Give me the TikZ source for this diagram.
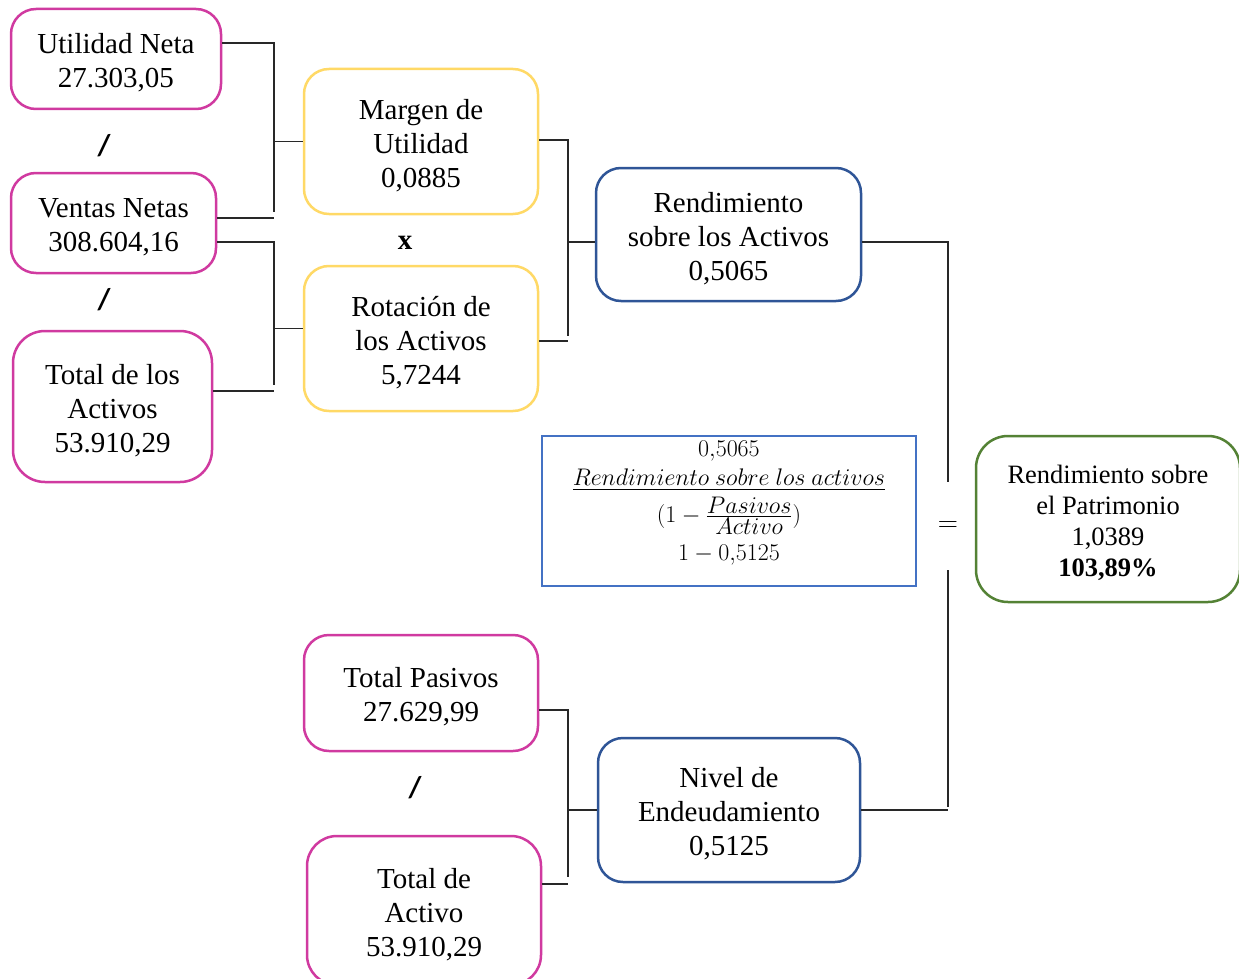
\RequirePackage{fix-cm}
\documentclass[tikz,border=0pt]{standalone}
\usepackage{amsmath}
\usepackage[no-math]{fontspec}
\setmainfont{Liberation Serif}
\newfontfamily\slashfont{Carlito}
\newcommand{\toppad}{\rule{0pt}{28pt}}
\definecolor{cmag}{RGB}{208,58,160}
\definecolor{cyel}{RGB}{255,217,102}
\definecolor{cdblue}{RGB}{47,85,151}
\definecolor{cblue}{RGB}{68,114,196}
\definecolor{cgreen}{RGB}{84,130,53}
\definecolor{cline}{RGB}{40,40,40}
\tikzset{
  box/.style={draw, line width=2.5pt, rounded corners=25pt, inner sep=0pt,
    align=center, font=\fontsize{29}{34}\selectfont},
  magbox/.style={box, draw=cmag},
  yelbox/.style={box, draw=cyel},
  bluebox/.style={box, draw=cdblue},
  conn/.style={draw=cline, line width=1.4pt},
  op/.style={inner sep=0pt, font=\slashfont\bfseries\fontsize{30}{30}\selectfont},
  fline/.style={inner sep=0pt, font=\fontsize{24}{28}\selectfont},
}
\begin{document}
\begin{tikzpicture}[x=1pt,y=-1pt]
\clip (0,0) rectangle (1239,979);
\fill[white] (0,0) rectangle (1239,979);

% left column
\node[magbox, minimum width=210pt, minimum height=100pt] (un) at (116,59) {\toppad Utilidad Neta\\27.303,05};
\node[magbox, minimum width=205pt, minimum height=100pt] (vn) at (113.5,223) {\toppad Ventas Netas\\308.604,16};
\node[magbox, minimum width=199pt, minimum height=151pt, rounded corners=32pt] (ta) at (112.5,406.5) {\toppad Total de los\\Activos\\53.910,29};
\node[op] (s1) at (104,146) {/};
\node[op] (s2) at (104,300) {/};

% middle column
\node[yelbox, minimum width=234pt, minimum height=145pt] (mu) at (421,141.5) {\toppad Margen de\\Utilidad\\0,0885};
\node[yelbox, minimum width=234pt, minimum height=145pt] (ra) at (421,338.5) {\toppad Rotación de\\los Activos\\5,7244};
\node[inner sep=0pt, font=\bfseries\fontsize{29}{34}\selectfont] (xx) at (405,243) {x};

% ROA
\node[bluebox, minimum width=265pt, minimum height=133pt] (rsa) at (728.5,234.5) {\toppad Rendimiento\\sobre los Activos\\0,5065};

% formula box
\node[draw=cblue, line width=2.5pt, minimum width=374pt, minimum height=150pt, inner sep=0pt] (fb) at (729,511) {};
\node[fline] (f1) at (729,451) {$0{,}5065$};
\node[fline] (f2) at (729,480) {$\underline{Rendimiento\ sobre\ los\ activos}$};
\node[fline] (f3) at (729,516) {$(1-\frac{\textstyle Pasivos}{\textstyle Activo})$};
\node[fline] (f4) at (729,555) {$1-0{,}5125$};

% equal sign and ROE
\node[inner sep=0pt, font=\fontsize{28}{28}\selectfont] (eq) at (948,527) {$=$};
\node[box, draw=cgreen, minimum width=264pt, minimum height=166pt, rounded corners=32pt,
  font=\fontsize{26.5}{31}\selectfont] (rp) at (1108,519) {\rule{0pt}{27pt}Rendimiento sobre\\el Patrimonio\\1,0389\\\textbf{103,89\%}};

% bottom
\node[magbox, minimum width=234pt, minimum height=116pt] (tp) at (421,693) {\toppad Total Pasivos\\27.629,99};
\node[magbox, minimum width=234pt, minimum height=149pt, rounded corners=30pt] (tda) at (424,910.5) {\toppad Total de\\Activo\\53.910,29};
\node[op] (s3) at (415,788) {/};
\node[bluebox, minimum width=262pt, minimum height=144pt] (ne) at (729,810) {\toppad Nivel de\\Endeudamiento\\0,5125};

% bracket coordinates
\coordinate (b1t) at (274,43);
\coordinate (b1b) at (274,212);
\coordinate (b2t) at (274,242);
\coordinate (b2b) at (274,385);
\coordinate (b3t) at (568,140);
\coordinate (b3b) at (568,336);
\coordinate (b4t) at (948,242);
\coordinate (b4m) at (948,482);
\coordinate (b4n) at (948,570);
\coordinate (b4b) at (948,807);
\coordinate (b5t) at (568,710);
\coordinate (b5b) at (568,877);

% connectors
\draw[conn] ([yshift=16pt]un.east) -- (b1t) -- (b1b);
\draw[conn] (mu.west) -- (mu.west -| b1t);
\draw[conn] ([yshift=5pt]vn.east) -- ([yshift=5pt]vn.east -| b1t);

\draw[conn] ([yshift=-19pt]vn.east) -- (b2t) -- (b2b);
\draw[conn] ([yshift=10pt]ra.west) -- ([yshift=10pt]ra.west -| b2t);
\draw[conn] ([yshift=15.5pt]ta.east) -- ([yshift=15.5pt]ta.east -| b2t);

\draw[conn] ([yshift=1.5pt]mu.east) -- (b3t) -- (b3b);
\draw[conn] ([yshift=-7.5pt]rsa.west) -- ([yshift=-7.5pt]rsa.west -| b3t);
\draw[conn] ([yshift=-2.5pt]ra.east) -- ([yshift=-2.5pt]ra.east -| b3t);

\draw[conn] ([yshift=-7.5pt]rsa.east) -- (b4t) -- (b4m);
\draw[conn] (b4n) -- (b4b);
\draw[conn] (ne.east) -- (ne.east -| b4t);

\draw[conn] ([yshift=-17pt]tp.east) -- (b5t) -- (b5b);
\draw[conn] (ne.west) -- (ne.west -| b5t);
\draw[conn] ([yshift=26.5pt]tda.east) -- ([yshift=26.5pt]tda.east -| b5t);
\end{tikzpicture}
\end{document}
